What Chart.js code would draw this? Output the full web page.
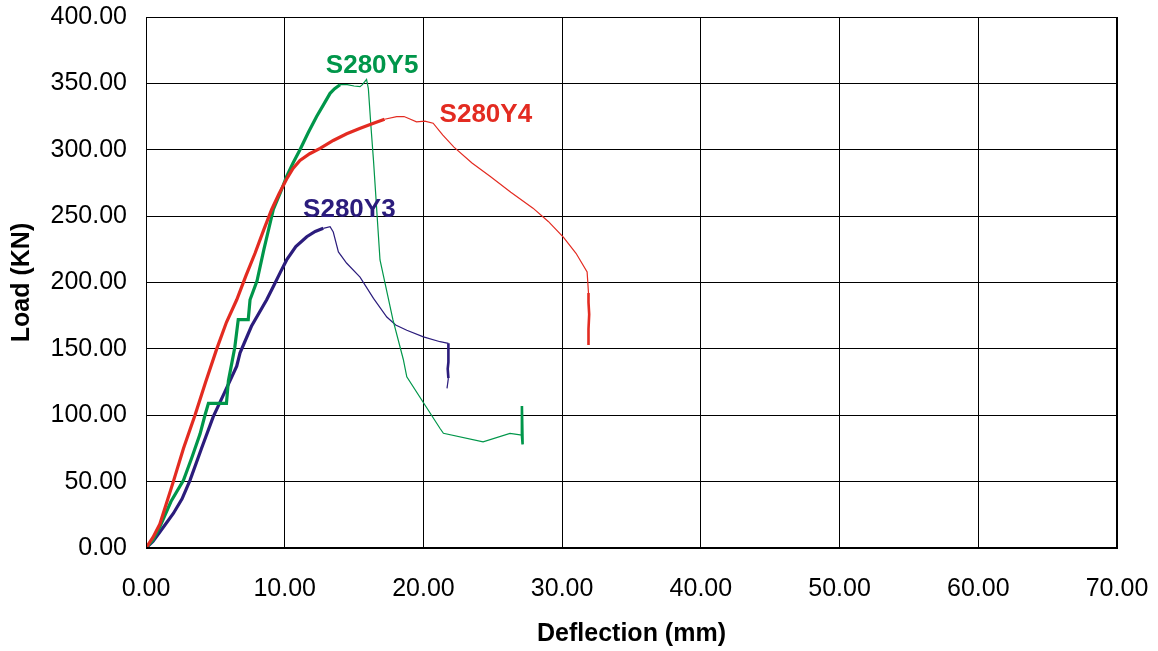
<!DOCTYPE html>
<html>
<head>
<meta charset="utf-8">
<script src="https://cdn.jsdelivr.net/npm/chart.js@4.4.0/dist/chart.umd.min.js"></script>
<style>
  body { margin: 0; background: #fff; }
  canvas { display: block; }
</style>
</head>
<body>
<canvas id="myChart" width="1158" height="651"></canvas>
<script>
// S280Y4 (red)
const y4X = [0, 0.5, 1.0, 1.97, 2.7, 3.53, 4.3, 5.1, 5.8, 6.54, 7.2, 7.86, 8.5, 9.06, 9.6, 10.14, 10.6, 11.1, 11.8, 12.55, 13.5, 14.47, 15.4, 16.4, 17.2, 18.07, 18.6, 18.9, 19.5, 20.1, 20.7, 21.4, 22.2, 23.5, 24.8, 26.3, 27.9, 29.0, 30.1, 31.0, 31.8, 31.9, 31.9, 31.95, 31.9, 31.9];
const y4Load = [0, 8, 18, 50, 75, 100, 125, 150, 170, 187, 205, 222, 240, 255, 267, 278, 286, 292, 297, 301, 307, 312, 316, 320, 323, 325, 325, 323.7, 321, 321.6, 320, 311, 302, 290, 280, 268, 256, 246, 234, 222, 208, 192, 185, 176, 165, 153];

// S280Y5 (green)
const y5X = [0, 0.5, 1.0, 1.8, 2.7, 3.3, 3.9, 4.25, 4.5, 5.8, 5.94, 6.2, 6.4, 6.65, 7.37, 7.5, 8.0, 8.5, 9.18, 9.7, 10.14, 10.6, 11.1, 11.7, 12.3, 12.8, 13.27, 13.6, 13.99, 14.5, 15.0, 15.43, 15.6, 15.9, 16.03, 16.2, 16.4, 16.87, 17.8, 18.55, 18.8, 21.2, 21.44, 24.3, 26.24, 27.1, 27.1, 27.15, 27.1];
const y5Load = [0, 6, 16, 35, 51, 68, 86, 100, 109, 109, 126, 140, 151, 172, 172, 187, 201, 225, 255, 268, 280, 290, 300, 313, 325, 334, 342.5, 346, 349, 349, 348, 347.5, 349, 353, 346, 320, 292, 217, 172, 142, 129, 90, 86.4, 80, 86.4, 85, 107, 78, 85];

// S280Y3 (navy)
const y3X = [0, 0.5, 1.0, 1.97, 2.6, 3.17, 4.0, 4.85, 5.7, 6.54, 6.78, 7.6, 8.7, 9.18, 9.7, 10.14, 10.8, 11.59, 12.2, 12.78, 13.27, 13.5, 13.87, 14.47, 15.43, 16.4, 17.36, 18.0, 18.8, 20.0, 21.2, 21.8, 21.8, 21.75, 21.8, 21.7];
const y3Load = [0, 5, 12, 26, 37, 51, 75, 99, 118, 137, 147, 167, 187, 197, 208, 217, 227, 234.5, 238.5, 240.8, 242, 238, 223, 214.5, 204, 188, 174, 168, 164, 159, 155.4, 154.2, 140, 135, 128, 120.3];

const xTicks = [0, 10, 20, 30, 40, 50, 60, 70];
const yTicks = [0, 50, 100, 150, 200, 250, 300, 350, 400];

// series names and where their labels sit (data units)
const names = ['S280Y4', 'S280Y5', 'S280Y3'];
const labelX = [24.5, 16.3, 14.66];
const labelY = [320.7, 357.6, 249.6];

const colors = ['#e32b21', '#00964a', '#2b1c7c'];
// heavy (noisy) trace before the peak and along the last drop
const heavyUntil = [18.1, 14.0, 13.3];
const heavyFrom = [31.85, 27.05, 21.75];

function pts(xs, ys) {
  return xs.map((x, i) => ({ x: x, y: ys[i] }));
}

function series(i, xs, ys) {
  const peak = ys.indexOf(Math.max(...ys));
  return {
    label: names[i],
    data: pts(xs, ys),
    showLine: true,
    borderColor: colors[i],
    pointRadius: 0,
    borderWidth: 1.2,
    segment: {
      borderWidth: ctx => {
        const x = ctx.p1.parsed.x;
        if (x <= heavyUntil[i] && ctx.p1DataIndex < peak) return 3.2;
        if (ctx.p0.parsed.x >= heavyFrom[i] && x >= heavyFrom[i]) return 2.6;
        return 1.2;
      }
    }
  };
}

const labelPlugin = {
  id: 'seriesLabels',
  afterDatasetsDraw(chart) {
    const c = chart.ctx;
    const sx = chart.scales.x, sy = chart.scales.y;
    c.save();
    c.font = 'bold 26px "Liberation Sans", Arial, sans-serif';
    c.textAlign = 'center';
    c.textBaseline = 'alphabetic';
    names.forEach((n, i) => {
      c.fillStyle = colors[i];
      c.fillText(n, sx.getPixelForValue(labelX[i]), sy.getPixelForValue(labelY[i]));
    });
    c.restore();
  }
};

const tickFont = { family: '"Liberation Sans", Arial, sans-serif', size: 25 };
const titleFont = { family: '"Liberation Sans", Arial, sans-serif', size: 25, weight: 'bold' };

new Chart(document.getElementById('myChart'), {
  type: 'scatter',
  data: {
    datasets: [
      series(0, y4X, y4Load),
      series(1, y5X, y5Load),
      series(2, y3X, y3Load)
    ]
  },
  options: {
    responsive: false,
    animation: false,
    layout: { padding: { top: 17, right: 41, left: 0, bottom: 0 } },
    plugins: {
      legend: { display: false },
      tooltip: { enabled: false }
    },
    scales: {
      x: {
        type: 'linear',
        min: 0,
        max: 70,
        afterFit: s => { s.height = 103; s.paddingLeft = 0; s.paddingRight = 0; },
        afterBuildTicks: s => { s.ticks = xTicks.map(v => ({ value: v })); },
        ticks: {
          color: '#000',
          font: tickFont,
          padding: 26,
          maxRotation: 0,
          callback: v => Number(v).toFixed(2)
        },
        grid: { color: '#000', lineWidth: 1, drawTicks: false },
        border: { color: '#000', width: 1 },
        title: {
          display: true,
          text: 'Deflection (mm)',
          color: '#000',
          font: titleFont,
          padding: { top: 0, bottom: 2 }
        }
      },
      y: {
        type: 'linear',
        min: 0,
        max: 400,
        afterFit: s => { s.width = 146; s.paddingTop = 0; s.paddingBottom = 0; },
        afterBuildTicks: s => { s.ticks = yTicks.map(v => ({ value: v })); },
        ticks: {
          color: '#000',
          font: tickFont,
          padding: 19,
          callback: v => Number(v).toFixed(2)
        },
        grid: { color: '#000', lineWidth: 1, drawTicks: false },
        border: { color: '#000', width: 1 },
        title: {
          display: true,
          text: 'Load (KN)',
          color: '#000',
          font: titleFont,
          padding: { top: 7, bottom: 0 }
        }
      }
    }
  },
  plugins: [labelPlugin, {
    id: 'frame',
    afterDraw(chart) {
      const a = chart.chartArea, c = chart.ctx;
      c.save();
      c.strokeStyle = '#000';
      c.lineWidth = 1;
      c.strokeRect(a.left + 0.5, a.top + 0.5, a.right - a.left - 1, a.bottom - a.top - 1);
      c.restore();
    }
  }]
});
</script>
</body>
</html>
